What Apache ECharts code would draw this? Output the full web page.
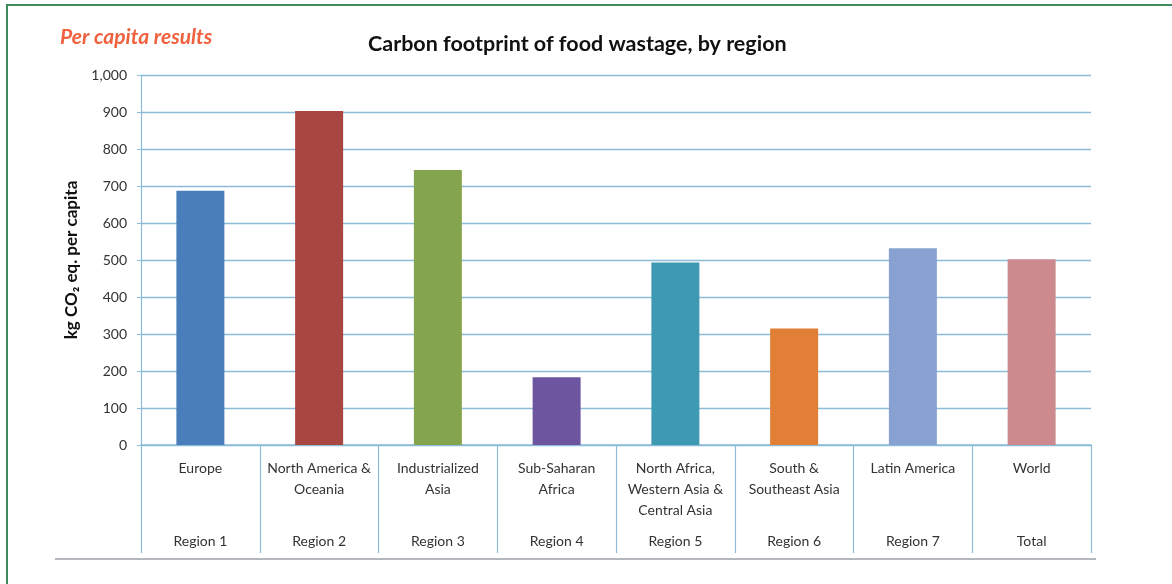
<!DOCTYPE html>
<html>
<head>
<meta charset="utf-8">
<script src="https://cdn.jsdelivr.net/npm/echarts@6/dist/echarts.min.js"></script>
<style>
  html, body { margin: 0; padding: 0; background: #fff; }
  #chart { width: 1172px; height: 584px; }
</style>
</head>
<body>
<div id="chart"></div>
<script>
// 数据
var categories = ['Europe', 'North America &\nOceania', 'Industrialized\nAsia', 'Sub-Saharan\nAfrica',
    'North Africa,\nWestern Asia &\nCentral Asia', 'South &\nSoutheast Asia', 'Latin America', 'World'];
var regionLabels = ['Region 1', 'Region 2', 'Region 3', 'Region 4', 'Region 5', 'Region 6', 'Region 7', 'Total'];
var values = [687, 903, 743, 183, 493, 315, 532, 502];
var barColors = ['#4a7ebb', '#a84642', '#84a54e', '#6e55a0', '#3e9ab3', '#e07f35', '#87a2d0', '#cc8a8e'];
var yTicks = [0, 1000, 100];  // min, max, interval

var chart = echarts.init(document.getElementById('chart'));
var font = 'Lato, "Open Sans", sans-serif';
var blue = '#8dbcd9';

var option = {
    backgroundColor: '#fff',
    textStyle: { fontFamily: font },
    title: [{
        text: 'Carbon footprint of food wastage, by region',
        left: 363,
        top: 28,
        textStyle: { fontSize: 21.5, fontWeight: 'bold', color: '#111', fontFamily: font }
    }, {
        text: 'Per capita results',
        left: 55,
        top: 22,
        textStyle: { fontSize: 21, fontStyle: 'italic', fontWeight: 'bold', color: '#f0623f', fontFamily: font }
    }],
    grid: { left: 141, right: 81, top: 75, bottom: 139 },
    xAxis: [{
        type: 'category',
        data: categories,
        position: 'bottom',
        axisLine: { lineStyle: { color: blue, width: 1.5 } },
        axisTick: { show: true, interval: 0, length: 108, lineStyle: { color: blue, width: 1.2 } },
        axisLabel: { interval: 0, margin: 13, color: '#333', fontSize: 14, lineHeight: 21, fontFamily: font }
    }, {
        type: 'category',
        data: regionLabels,
        position: 'bottom',
        offset: 80,
        axisLine: { show: false },
        axisTick: { show: false },
        axisLabel: { interval: 0, margin: 9, color: '#333', fontSize: 14, fontFamily: font }
    }],
    yAxis: {
        type: 'value',
        min: yTicks[0],
        max: yTicks[1],
        interval: yTicks[2],
        name: 'kg CO\u2082 eq. per capita',
        nameLocation: 'middle',
        nameGap: 60,
        nameTextStyle: { fontSize: 17, fontWeight: 'bold', color: '#111', fontFamily: font },
        axisLine: { show: true, lineStyle: { color: blue, width: 1.2 } },
        axisTick: { show: true, length: 4, lineStyle: { color: blue } },
        axisLabel: {
            margin: 14, color: '#333', fontSize: 14, fontFamily: font,
            formatter: function (v) { return v.toLocaleString('en-US'); }
        },
        splitLine: { lineStyle: { color: blue, width: 1.3 } }
    },
    series: [{
        type: 'bar',
        xAxisIndex: 0,
        barWidth: 48,
        data: values.map(function (v, i) {
            return { value: v, itemStyle: { color: barColors[i] } };
        })
    }],
    graphic: [{
        type: 'rect',
        shape: { x: 7, y: 5, width: 1300, height: 700 },
        style: { fill: 'none', stroke: '#3f8a5f', lineWidth: 2 }
    }, {
        type: 'line',
        shape: { x1: 55, y1: 559, x2: 1096, y2: 559 },
        style: { stroke: '#b5b9bd', lineWidth: 2 }
    }]
};

chart.setOption(option);
</script>
</body>
</html>
